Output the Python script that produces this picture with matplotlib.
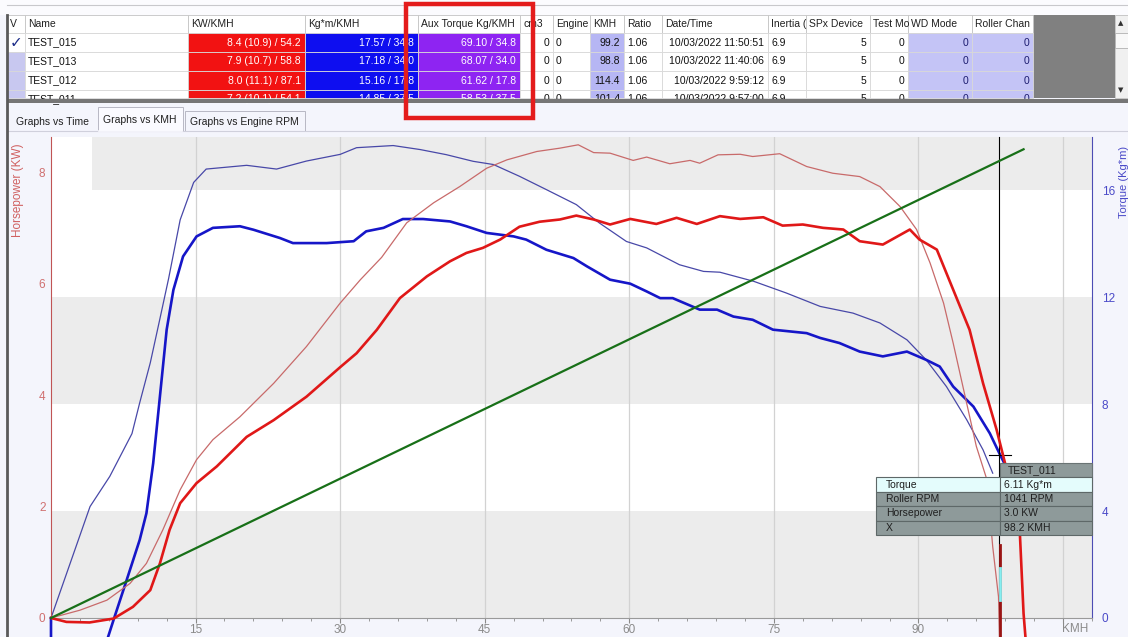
import numpy as np
import matplotlib.pyplot as plt
from matplotlib.patches import Rectangle
from matplotlib.ticker import MultipleLocator

plt.rcParams['font.family'] = ['Liberation Sans', 'DejaVu Sans']

# ---- curve data ----
# thick red: horsepower, TEST_011
kmh_hp_a = [0, 1.6, 4.0, 6.5, 8.5, 10.3, 11.3, 12.3, 13.4, 15.1, 17.2, 20.3, 23.1, 26.5, 30.0,
            31.7, 33.8, 36.2, 39.0, 41.4, 43.1, 44.8, 46.6, 48.6, 50.7, 52.8, 54.5, 56.3, 58.0,
            60.1, 62.8, 64.9, 67.0, 69.4, 71.5, 73.9, 75.9, 78.0, 80.1, 82.2, 83.9, 86.3, 89.1,
            90.1, 91.9, 93.6, 95.3, 96.7, 98.1, 99.5, 100.5, 100.9, 101.1]
hp_a = [0, -0.07, -0.08, -0.01, 0.2, 0.5, 0.98, 1.58, 2.06, 2.42, 2.72, 3.25, 3.55, 3.97, 4.5,
        4.75, 5.17, 5.74, 6.13, 6.4, 6.55, 6.64, 6.79, 7.02, 7.11, 7.15, 7.22, 7.15, 7.06,
        7.16, 7.07, 7.18, 7.07, 7.21, 7.16, 7.19, 7.04, 7.06, 7.0, 6.97, 6.76, 6.7, 6.97,
        6.79, 6.61, 5.89, 5.17, 4.21, 3.38, 2.42, 1.58, 0.08, -0.35]

# thin red: horsepower, reference run
kmh_hp_b = [0, 3.0, 5.8, 8.2, 9.9, 11.6, 13.4, 15.1, 16.8, 19.6, 23.1, 26.5, 30.0, 32.1, 34.3,
            36.9, 39.7, 42.4, 45.2, 47.3, 50.4, 52.8, 54.7, 56.3, 58.0, 60.4, 61.8, 64.2, 66.3,
            67.3, 69.2, 71.5, 72.8, 75.6, 78.4, 81.1, 83.9, 86.0, 88.1, 89.8, 91.2, 92.6, 93.6,
            95.0, 96.0, 97.1, 97.7, 98.3, 98.4]
hp_b = [0, 0.14, 0.32, 0.62, 0.98, 1.58, 2.3, 2.84, 3.2, 3.61, 4.21, 4.87, 5.65, 6.07, 6.47,
        7.09, 7.45, 7.74, 8.07, 8.22, 8.37, 8.43, 8.49, 8.35, 8.34, 8.21, 8.27, 8.15, 8.21,
        8.16, 8.31, 8.32, 8.28, 8.33, 8.1, 7.98, 7.92, 7.74, 7.38, 6.97, 6.37, 5.65, 4.93,
        3.85, 3.08, 2.48, 1.28, 0.38, -0.35]

# thick blue: torque, TEST_011
kmh_tq_a = [0, 0, 5.75, 6.6, 7.85, 9.2, 9.9, 10.6, 11.3, 12.0, 12.7, 13.7, 15.1, 16.8, 19.6,
            21.0, 23.75, 25.1, 28.6, 31.4, 32.7, 34.5, 36.5, 38.6, 41.4, 43.1, 45.2, 48.0, 49.3,
            51.4, 54.2, 55.6, 58.0, 60.1, 61.8, 63.2, 64.5, 67.3, 69.1, 70.8, 72.8, 74.9, 78.4,
            79.8, 81.8, 83.9, 86.3, 88.8, 90.8, 92.2, 93.6, 95.7, 97.4, 98.3, 98.9]
tq_a = [0, -0.9, -0.9, 0.05, 1.42, 2.92, 3.92, 5.79, 8.29, 10.79, 12.28, 13.53, 14.28, 14.6, 14.66,
        14.53, 14.22, 14.03, 14.03, 14.1, 14.47, 14.6, 14.93, 14.93, 14.84, 14.66, 14.41, 14.28, 14.16,
        13.78, 13.47, 13.16, 12.66, 12.51, 12.22, 11.97, 11.97, 11.54, 11.54, 11.28, 11.16, 10.79, 10.66,
        10.48, 10.29, 9.97, 9.79, 9.97, 9.66, 9.41, 8.66, 7.91, 6.91, 6.23, 5.79]

# thin blue: torque, reference run
kmh_tq_b = [0, 4.05, 6.1, 8.4, 9.2, 10.3, 11.3, 12.2, 13.4, 14.8, 16.1, 20.3, 23.4, 26.5, 30.0,
            31.7, 35.5, 38.3, 41.0, 43.8, 45.9, 48.6, 51.4, 54.5, 56.9, 59.7, 61.8, 65.2, 67.7,
            69.4, 72.9, 76.3, 79.8, 83.2, 86.0, 88.8, 90.8, 92.9, 95.0, 96.7, 97.7]
tq_b = [0, 4.17, 5.3, 6.9, 8.05, 9.55, 11.2, 12.7, 14.9, 16.3, 16.8, 16.94, 16.8, 17.1, 17.35,
        17.6, 17.68, 17.53, 17.34, 17.09, 16.97, 16.53, 16.03, 15.47, 14.78, 14.09, 13.85, 13.22, 12.97,
        12.94, 12.6, 12.16, 11.66, 11.41, 11.04, 10.41, 9.66, 8.66, 7.42, 6.29, 5.42]

# green: roller rpm
kmh_rpm = [0, 100.9]
roller_rpm = [0, 1070]

cursor_kmh = 98.4
cursor_torque = 6.11

# ---- table data ----
headers = ['V', 'Name', 'KW/KMH', 'Kg*m/KMH', 'Aux Torque Kg/KMH', 'cm3', 'Engine', 'KMH', 'Ratio',
           'Date/Time', 'Inertia (', 'SPx Device', 'Test Mo', 'WD Mode', 'Roller Chan']
names = ['TEST_015', 'TEST_013', 'TEST_012', 'TEST_011']
kw_kmh = ['8.4 (10.9) / 54.2', '7.9 (10.7) / 58.8', '8.0 (11.1) / 87.1', '7.2 (10.1) / 54.1']
kgm_kmh = ['17.57 / 34.8', '17.18 / 34.0', '15.16 / 17.8', '14.85 / 37.5']
aux_torque = ['69.10 / 34.8', '68.07 / 34.0', '61.62 / 17.8', '58.53 / 37.5']
cm3 = ['0', '0', '0', '0']
engine = ['0', '0', '0', '0']
max_kmh = ['99.2', '98.8', '114.4', '101.4']
ratio = ['1.06', '1.06', '1.06', '1.06']
date_time = ['10/03/2022 11:50:51', '10/03/2022 11:40:06', '10/03/2022 9:59:12', '10/03/2022 9:57:00']
inertia = ['6.9', '6.9', '6.9', '6.9']
spx_device = ['5', '5', '5', '5']
test_mode = ['0', '0', '0', '0']
wd_mode = ['0', '0', '0', '0']
roller_channel = ['0', '0', '0', '0']

tip_labels = ['Torque', 'Roller RPM', 'Horsepower', 'X']
tip_values = ['6.11 Kg*m', '1041 RPM', '3.0 KW', '98.2 KMH']

W, H = 1128, 637
fig = plt.figure(figsize=(W / 100, H / 100), dpi=100, facecolor='#f4f5fc')

# pixel overlay for the window chrome
ui = fig.add_axes([0, 0, 1, 1], zorder=5)
ui.set_xlim(0, W)
ui.set_ylim(H, 0)
ui.axis('off')


def box(x0, y0, x1, y1, fc, ec='none', lw=0.8, z=1):
    ui.add_patch(Rectangle((x0, y0), x1 - x0, y1 - y0, facecolor=fc, edgecolor=ec, linewidth=lw, zorder=z))


# ---- plot ----
L, R, T, B = 51, 1092, 137, 618
ax_t = fig.add_axes([L / W, 1 - B / H, (R - L) / W, (B - T) / H])
ax_t.set_facecolor('white')
ax_t.set_xlim(0, 108)
ax_t.set_ylim(0, 18.0)
ax_hp = ax_t.twinx()
ax_hp.set_ylim(0, 8.63)
ax_rpm = ax_t.twinx()
ax_rpm.set_ylim(0, 1098)

for lo, hi, xmin in [(0, 4, 0), (8, 12, 0), (16, 18, 0.039)]:
    ax_t.axhspan(lo, hi, xmin=xmin, color='#ececec', lw=0, zorder=0)
for k in range(15, 106, 15):
    ax_t.axvline(k, color='#d2d2d2', lw=0.9, zorder=0.5)

ax_t.plot(kmh_tq_b, tq_b, color='#4848a8', lw=0.9, clip_on=False, zorder=2)
ax_t.plot(kmh_tq_a, tq_a, color='#1616c8', lw=1.9, clip_on=False, zorder=3)
ax_hp.plot(kmh_hp_b, hp_b, color='#c86a6a', lw=0.9, clip_on=False, zorder=2)
ax_hp.plot(kmh_hp_a, hp_a, color='#e01818', lw=1.9, clip_on=False, zorder=3)
ax_rpm.plot(kmh_rpm, roller_rpm, color='#187018', lw=1.6, clip_on=False, zorder=2)

# cursor
ax_t.axvline(cursor_kmh, ymin=-0.05, ymax=1, color='black', lw=0.8, clip_on=False, zorder=4)
ax_t.plot([cursor_kmh - 1.1, cursor_kmh + 1.2], [cursor_torque, cursor_torque], color='black', lw=0.8, zorder=4)
ui.plot([1000, 1000], [545, 637], color='#9a1414', lw=2, zorder=2)
ui.plot([1000, 1000], [568, 600], color='#86eef0', lw=2, zorder=2)

for a in (ax_t, ax_hp, ax_rpm):
    for s in a.spines.values():
        s.set_visible(False)
ax_t.spines['right'].set_visible(True)
ax_t.spines['right'].set_color('#4c4cb4')
ax_t.spines['bottom'].set_visible(True)
ax_t.spines['bottom'].set_color('#9a9a9a')
ax_hp.spines['left'].set_visible(True)
ax_hp.spines['left'].set_color('#c05454')

ax_t.set_xticks(range(0, 106, 15))
ax_t.set_xticklabels(['', '15', '30', '45', '60', '75', '90', ''])
ax_t.xaxis.set_minor_locator(MultipleLocator(3))
ax_t.tick_params(axis='x', which='major', direction='out', length=3.5, color='#8a8a8a',
                 labelcolor='#8a8a8a', labelsize=8.5, pad=1)
ax_t.tick_params(axis='x', which='minor', direction='out', length=2.2, color='#8a8a8a')
ax_t.yaxis.tick_right()
ax_t.set_yticks([0, 4, 8, 12, 16])
ax_t.tick_params(axis='y', length=0, labelcolor='#4a4ac8', labelsize=8.5, pad=7)
ax_hp.yaxis.tick_left()
ax_hp.set_yticks([0, 2, 4, 6, 8])
ax_hp.tick_params(axis='y', length=0, labelcolor='#d07070', labelsize=8.5, pad=4)
ax_rpm.set_yticks([])

ui.text(1075, 629, 'KMH', ha='center', va='center', fontsize=8.5, color='#8a8a8a')
ui.text(18, 190, 'Horsepower (KW)', rotation=90, ha='center', va='center', fontsize=8.5, color='#d06060')
ui.text(1124, 182, 'Torque (Kg*m)', rotation=90, ha='center', va='center', fontsize=8, color='#4a4ac8')

# ---- tooltip ----
box(1000, 463, 1092, 477, '#8e9a9a', '#6a7474', 0.8)
ui.text(1008, 470.5, 'TEST_011', va='center', fontsize=7.5, color='#202020')
for i, (lab, val) in enumerate(zip(tip_labels, tip_values)):
    y0 = 477 + i * 14.5
    fc = '#e4fcfc' if i == 0 else '#8e9a9a'
    box(876, y0, 1000, y0 + 14.5, fc, '#5e6868', 0.8)
    box(1000, y0, 1092, y0 + 14.5, fc, '#5e6868', 0.8)
    ui.text(886, y0 + 7.5, lab, va='center', fontsize=7.5, color='#202020')
    ui.text(1004, y0 + 7.5, val, va='center', fontsize=7.5, color='#202020')

# ---- table ----
cols = [(7, 25, 'left', 'white'), (25, 188, 'left', 'white'), (188, 305, 'right', '#f21212'),
        (305, 418, 'right', '#0e0ef0'), (418, 520, 'right', '#8e24f2'), (520, 553, 'right', 'white'),
        (553, 590, 'left', 'white'), (590, 624, 'right', '#b6b6f4'), (624, 662, 'left', 'white'),
        (662, 768, 'right', 'white'), (768, 806, 'left', 'white'), (806, 870, 'right', 'white'),
        (870, 908, 'right', 'white'), (908, 972, 'right', '#c4c4f6'), (972, 1033, 'right', '#c4c4f6')]
table_rows = list(zip(names, kw_kmh, kgm_kmh, aux_torque, cm3, engine, max_kmh, ratio, date_time,
                      inertia, spx_device, test_mode, wd_mode, roller_channel))

TT, HB, RH, TB = 15, 33, 19, 98
box(0, 0, W, TT, '#fbfbfe')
ui.plot([7, W], [5, 5], color='#c8c8cc', lw=0.8)
box(1033, TT, 1115, TB, '#808080')
box(1115, TT, W, TB, '#f0f0f0', '#c0c0c0', 0.6)
box(1115, 33, W, 48, '#f8f8f8', '#b0b0b0', 0.6)
ui.text(1121, 23, '▲', ha='center', va='center', fontsize=5, color='#303030', family='DejaVu Sans')
ui.text(1121, 90, '▼', ha='center', va='center', fontsize=5, color='#303030', family='DejaVu Sans')

clip = Rectangle((7, TT), 1105, TB - TT, transform=ui.transData)
for j, (x0, x1, al, fc) in enumerate(cols):
    box(x0, TT, x1, HB, 'white', '#c4c4c4', 0.6)
    t = ui.text(x0 + 3, (TT + HB) / 2, headers[j], va='center', fontsize=7.5, color='#202020')
    t.set_clip_path(Rectangle((x0, TT), x1 - x0 - 2, HB - TT, transform=ui.transData))
    for i, row in enumerate(table_rows):
        y0 = HB + i * RH
        cfc = fc
        if j == 0:
            cfc = 'white' if i == 0 else '#c8c8f0'
        box(x0, y0, x1, min(y0 + RH, TB), cfc, '#d8d8d8', 0.6)
        if j == 0:
            continue
        txt = row[j - 1]
        tc = 'white' if j in (2, 3, 4) else ('#1c1c70' if j in (13, 14) else '#101010')
        if al == 'right':
            t = ui.text(x1 - 4, y0 + RH / 2, txt, ha='right', va='center', fontsize=7.5, color=tc)
        else:
            t = ui.text(x0 + 3, y0 + RH / 2, txt, ha='left', va='center', fontsize=7.5, color=tc)
        t.set_clip_path(clip)
ui.text(16, HB + RH / 2, '✓', ha='center', va='center', fontsize=11, color='#1c2c88',
        fontweight='bold', family='DejaVu Sans')
box(7, 99, W, 103, '#767676', z=3)
ui.plot([7, 7], [TT, H], color='#5a5a5a', lw=2, zorder=3)

# ---- tabs ----
ui.plot([7, W], [131, 131], color='#d0d0dc', lw=0.8)
ui.text(16, 122, 'Graphs vs Time', va='center', fontsize=7.5, color='#202020')
box(98, 107, 183, 131, '#fafaff', '#b8b8c4', 0.7)
ui.plot([99, 182], [131, 131], color='#fafaff', lw=1.2)
ui.text(103, 120, 'Graphs vs KMH', va='center', fontsize=7.5, color='#202020')
box(185, 111, 305, 131, '#f4f5fc', '#b8b8c4', 0.7)
ui.text(190, 122, 'Graphs vs Engine RPM', va='center', fontsize=7.5, color='#202020')

# red highlight frame
ui.add_patch(Rectangle((406, 4), 127, 114, facecolor='none', edgecolor='#e41c1c', linewidth=3.2, zorder=6))

fig.savefig('out.png', dpi=100, facecolor=fig.get_facecolor())
